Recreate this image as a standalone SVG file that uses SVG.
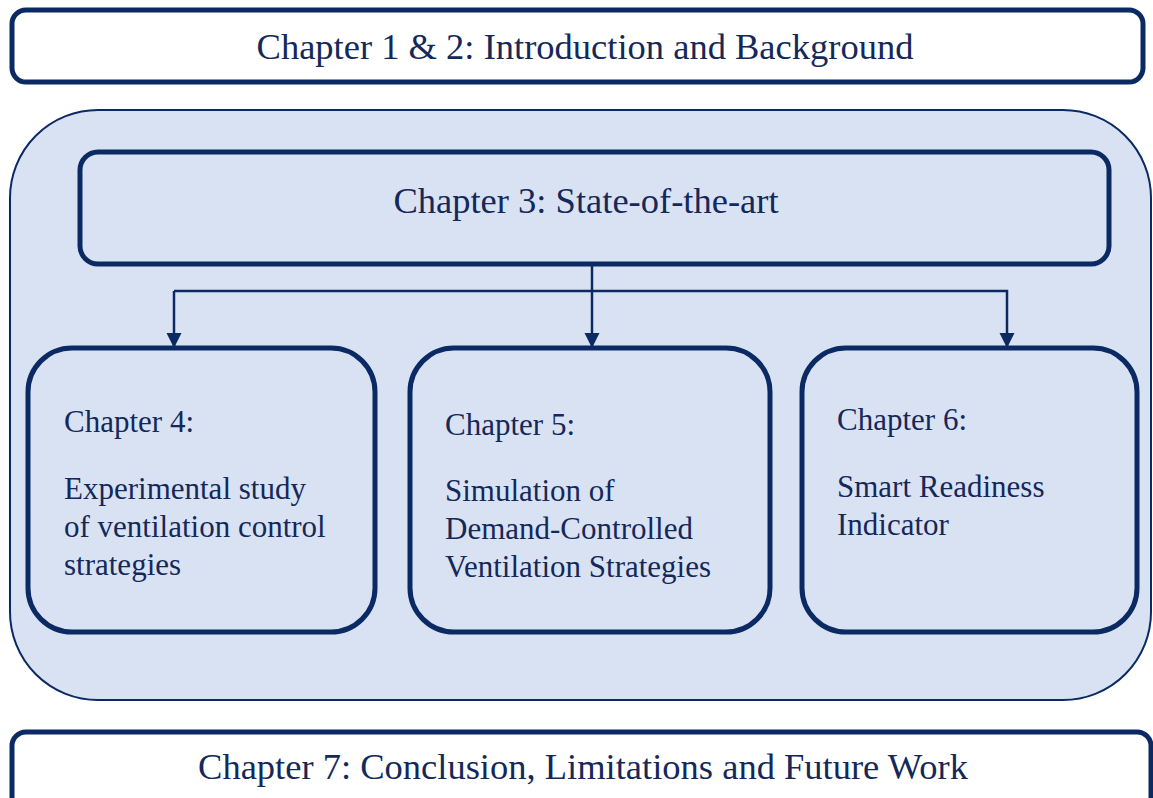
<svg xmlns="http://www.w3.org/2000/svg" width="1153" height="798" viewBox="0 0 1153 798">
<style>
.t{font-family:"Liberation Serif","Times New Roman",serif;fill:#14285a}
.big{font-size:36.5px}
.mid{font-size:31px}
.box{fill:#d9e2f3;stroke:#0b2a64;stroke-width:5}
.wbox{fill:#ffffff;stroke:#0b2a64;stroke-width:5}
.conn{fill:none;stroke:#0b2a64;stroke-width:2.5}
</style>
<defs>
<marker id="ah" markerWidth="16" markerHeight="16" refX="15" refY="8" orient="auto" markerUnits="userSpaceOnUse" viewBox="0 0 16 16">
<path d="M0,0.5 L15,8 L0,15.5 Z" fill="#0b2a64"/>
</marker>
</defs>
<rect width="1153" height="798" fill="#ffffff"/>
<g id="ch12">
<rect class="wbox" x="12" y="10" width="1131" height="72" rx="14"/>
<text class="t big" x="585" y="59" text-anchor="middle">Chapter 1 &amp; 2: Introduction and Background</text>
</g>
<g id="container">
<rect x="10" y="110" width="1141" height="590" rx="88" fill="#d9e2f3" stroke="#0b2a64" stroke-width="2"/>
</g>
<g id="ch3">
<rect class="box" x="80" y="152" width="1029" height="112" rx="18"/>
<text class="t big" x="586" y="213" text-anchor="middle">Chapter 3: State-of-the-art</text>
</g>
<g id="connectors">
<line class="conn" x1="592" y1="266" x2="592" y2="348" marker-end="url(#ah)"/>
<polyline class="conn" points="174,291 1007,291 1007,348" marker-end="url(#ah)"/>
<line class="conn" x1="174" y1="291" x2="174" y2="348" marker-end="url(#ah)"/>
</g>
<g id="ch4">
<rect class="box" x="28" y="348" width="347" height="284" rx="44"/>
<text class="t mid" x="64" y="432">Chapter 4:</text>
<text class="t mid" x="64" y="499">Experimental study</text>
<text class="t mid" x="64" y="537">of ventilation control</text>
<text class="t mid" x="64" y="575">strategies</text>
</g>
<g id="ch5">
<rect class="box" x="410" y="348" width="360" height="284" rx="44"/>
<text class="t mid" x="445" y="435">Chapter 5:</text>
<text class="t mid" x="445" y="501">Simulation of</text>
<text class="t mid" x="445" y="539">Demand-Controlled</text>
<text class="t mid" x="445" y="577">Ventilation Strategies</text>
</g>
<g id="ch6">
<rect class="box" x="802" y="348" width="335" height="284" rx="44"/>
<text class="t mid" x="837" y="430">Chapter 6:</text>
<text class="t mid" x="837" y="497">Smart Readiness</text>
<text class="t mid" x="837" y="535">Indicator</text>
</g>
<g id="ch7">
<rect class="wbox" x="12" y="732" width="1139" height="80" rx="14"/>
<text class="t big" x="583" y="779" text-anchor="middle">Chapter 7: Conclusion, Limitations and Future Work</text>
</g>
</svg>
